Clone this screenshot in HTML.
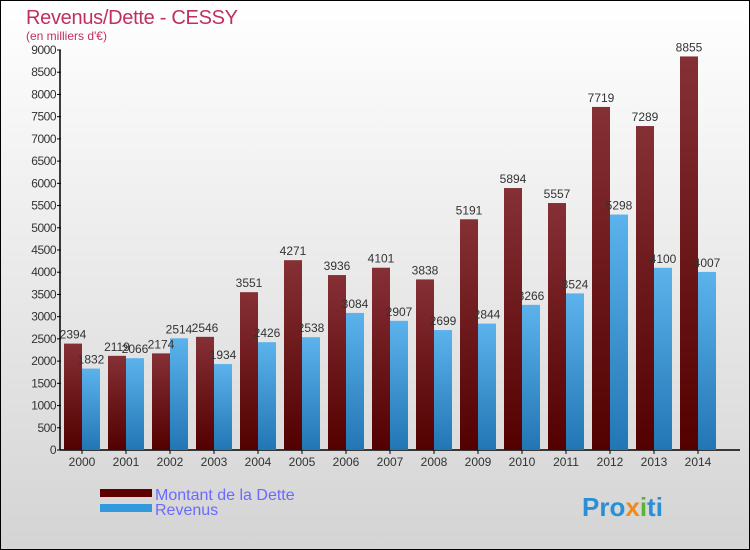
<!DOCTYPE html>
<html><head><meta charset="utf-8"><style>
html,body{margin:0;padding:0}
body{width:750px;height:550px;overflow:hidden;font-family:"Liberation Sans",sans-serif}
svg{display:block}
</style></head><body>
<svg id="chart" width="750" height="550">
<defs>
<linearGradient id="bg" x1="0" y1="0" x2="0" y2="1"><stop offset="0" stop-color="#ffffff"/><stop offset="1" stop-color="#d4d4d4"/></linearGradient>
<linearGradient id="gd" x1="0" y1="0" x2="0" y2="1"><stop offset="0" stop-color="#853035"/><stop offset="1" stop-color="#520000"/></linearGradient>
<linearGradient id="gr" x1="0" y1="0" x2="0" y2="1"><stop offset="0" stop-color="#5cb3ec"/><stop offset="1" stop-color="#2276b4"/></linearGradient>
</defs>
<rect x="0.5" y="0.5" width="749" height="549" fill="url(#bg)" stroke="#000"/>
<text x="26" y="24" font-size="20" fill="#c0305e" textLength="212">Revenus/Dette - CESSY</text>
<text x="26" y="40" font-size="12" fill="#c0305e">(en milliers d'€)</text>
<g id="axes"></g>
<g id="bars"></g>
<g>
<rect x="100" y="489" width="52" height="8" fill="#5e0000"/>
<text x="155" y="500" font-size="16" fill="#6a6aff">Montant de la Dette</text>
<rect x="100" y="504" width="52" height="8" fill="#3399dd"/>
<text x="155" y="515" font-size="16" fill="#6a6aff">Revenus</text>
</g>
<text x="582" y="516" font-size="26" font-weight="bold" fill="#2b8fd6">Pro<tspan fill="#f08a1c">x</tspan><tspan fill="#5ab52e">i</tspan>ti</text>
</svg>
<script>
const years=[2000,2001,2002,2003,2004,2005,2006,2007,2008,2009,2010,2011,2012,2013,2014];
const dette=[2394,2119,2174,2546,3551,4271,3936,4101,3838,5191,5894,5557,7719,7289,8855];
const revenus=[1832,2066,2514,1934,2426,2538,3084,2907,2699,2844,3266,3524,5298,4100,4007];
const yTicks=[0,500,1000,1500,2000,2500,3000,3500,4000,4500,5000,5500,6000,6500,7000,7500,8000,8500,9000];
const NS="http://www.w3.org/2000/svg";
const y0=450,yMax=9000,h=400;
const yS=v=>y0-v/yMax*h;
const xS=i=>64+44*i;
function mk(t,a,p){const e=document.createElementNS(NS,t);for(const k in a)e.setAttribute(k,a[k]);p.appendChild(e);return e;}
const ax=document.getElementById('axes'),bg=document.getElementById('bars');
const yl=mk('line',{x1:60,y1:y0,x2:60,y2:50,stroke:'#000','stroke-width':1.5},ax);


const xl=mk('line',{x1:60,y1:y0,x2:740,y2:y0,stroke:'#000','stroke-width':1.5},ax);


yTicks.forEach(v=>{const y=yS(v);
 mk('line',{x1:57,y1:y,x2:61,y2:y,stroke:'#000'},ax);
 const t=mk('text',{x:56,y:y+4,'font-size':12,'text-anchor':'end',fill:'#333','letter-spacing':'-0.5'},ax);t.textContent=v;
 
 
});
years.forEach((yr,i)=>{
 const x=xS(i);
 mk('line',{x1:x+18,y1:y0,x2:x+18,y2:y0+4,stroke:'#000'},ax);
 const t=mk('text',{x:x+18,y:y0+16,'font-size':12,'text-anchor':'middle',fill:'#333'},ax);t.textContent=yr;
 
 
 const d=mk('rect',{x:x,y:yS(dette[i]),width:18,height:y0-yS(dette[i]),fill:'url(#gd)'},bg);
 
 
 const r=mk('rect',{x:x+18,y:yS(revenus[i]),width:18,height:y0-yS(revenus[i]),fill:'url(#gr)'},bg);
 
 
 const dl=mk('text',{x:x+9,y:yS(dette[i])-5,'font-size':12,'text-anchor':'middle',fill:'#333'},bg);dl.textContent=dette[i];
 
 
 const rl=mk('text',{x:x+27,y:yS(revenus[i])-5,'font-size':12,'text-anchor':'middle',fill:'#333'},bg);rl.textContent=revenus[i];
 
 
});
</script>
</body></html>
